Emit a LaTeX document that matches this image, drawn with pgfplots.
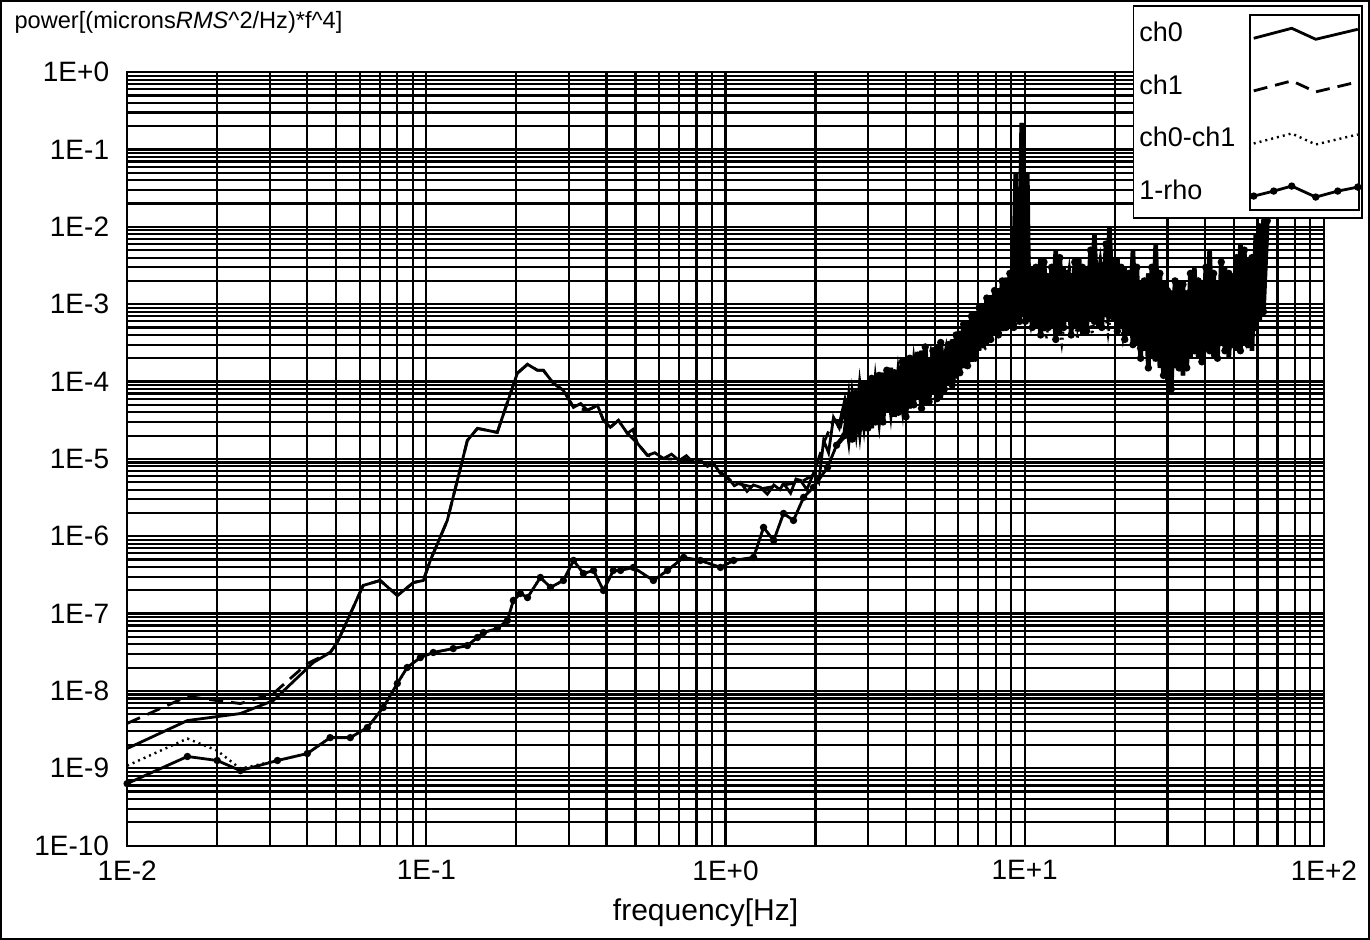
\documentclass[border=0pt]{standalone}
\usepackage{fontspec}
\setmainfont{Liberation Sans}
\usepackage{pgfplots}
\usepackage{pgfplotstable}
\pgfplotsset{compat=1.18}
\pgfplotsset{
  zigleg/.style={legend image code/.code={\draw[##1] plot coordinates {(0pt,-2.5pt)(19pt,2.5pt)(31pt,-3pt)(52pt,2pt)};}},
  zigmark/.style={legend image code/.code={\draw[##1] plot coordinates {(0pt,-2.5pt)(10pt,0pt)(19pt,2.5pt)(31pt,-3pt)(42pt,0pt)(52pt,2pt)};}},
}

\pgfplotstableread{
x y
0.0100 1.80e-9
0.0159 4.14e-9
0.0239 5.10e-9
0.0308 7.50e-9
0.0419 2.33e-8
0.0477 3.14e-8
0.0504 4.23e-8
0.0615 2.31e-7
0.0701 2.68e-7
0.0800 1.71e-7
0.0906 2.52e-7
0.0977 2.68e-7
0.1031 4.86e-7
0.1175 1.60e-6
0.1371 1.73e-5
0.1482 2.48e-5
0.1726 2.20e-5
0.2014 1.28e-4
0.2178 1.67e-4
0.2350 1.40e-4
0.2460 1.40e-4
0.2660 9.48e-5
0.2871 7.69e-5
0.3105 4.64e-5
0.3280 5.20e-5
0.3453 4.24e-5
0.3733 4.92e-5
0.3908 3.15e-5
0.4121 2.56e-5
0.4385 3.15e-5
0.4699 2.14e-5
0.4900 2.40e-5
0.5076 1.59e-5
0.5483 1.11e-5
0.5800 1.20e-5
0.6209 1.01e-5
0.66 1.15e-5
0.70 9.5e-6
0.74 1.10e-5
0.78 9.0e-6
0.8241 9.56e-6
0.87 8.0e-6
0.9120 8.75e-6
0.96 6.5e-6
1.016 5.77e-6
1.07 4.5e-6
1.122 4.97e-6
1.18 3.8e-6
1.24 4.6e-6
1.309 4.28e-6
1.38 3.5e-6
1.45 4.6e-6
1.52 4.0e-6
1.563 4.82e-6
1.65 3.6e-6
1.72 5.5e-6
1.782 5.27e-6
1.87 4.0e-6
1.968 6.49e-6
2.05 5.0e-6
2.128 1.73e-5
2.21 1.2e-5
2.296 3.44e-5
2.40 2.5e-5
2.50 5.0e-5
2.58 2.0e-5
2.65 6.0e-5
2.73 2.5e-5
2.81 8.0e-5
2.90 3.0e-5
2.99 1.0e-4
3.08 2.5e-5
3.17 9.0e-5
3.26 3.5e-5
3.36 1.3e-4
3.46 4.0e-5
3.57 1.5e-4
3.67 3.5e-5
3.78 1.2e-4
3.90 5.0e-5
4.01 2.0e-4
4.13 4.5e-5
4.26 1.6e-4
4.39 6.0e-5
4.52 2.5e-4
4.65 5.0e-5
4.79 2.0e-4
4.94 7.0e-5
5.09 3.0e-4
5.24 6.0e-5
5.39 2.5e-4
5.56 9.0e-5
5.72 3.5e-4
5.90 1.1e-4
6.07 4.5e-4
6.25 1.5e-4
6.44 6.0e-4
6.64 1.8e-4
6.84 8.0e-4
7.04 2.5e-4
7.25 1.0e-3
7.47 3.0e-4
7.70 1.3e-3
7.93 4.0e-4
8.17 1.6e-3
8.41 4.5e-4
8.66 2.2e-3
8.92 5.0e-4
9.19 3.0e-3
9.33 5.0e-2
9.47 6.0e-4
9.62 3.0e-3
9.77 2.2e-1
9.92 7.0e-4
10.05 2.0e-3
10.2 5.0e-2
10.35 6.0e-4
10.6 3.0e-3
10.9 5.0e-4
11.3 4.0e-3
11.6 4.5e-4
12.0 2.5e-3
12.3 5.0e-4
12.7 5.0e-3
13.1 4.0e-4
13.5 3.0e-3
13.9 6.0e-4
14.3 2.5e-3
14.7 5.0e-4
15.2 4.0e-3
15.6 4.0e-4
16.1 3.0e-3
16.6 6.0e-4
17.1 8.0e-3
17.6 5.0e-4
18.1 3.5e-3
18.7 7.0e-4
19.2 1.0e-2
19.8 6.0e-4
20.4 4.0e-3
21.0 5.0e-4
21.6 3.0e-3
22.3 4.0e-4
23.0 5.0e-3
23.7 3.0e-4
24.4 2.0e-3
25.1 2.5e-4
25.9 2.5e-3
26.6 2.0e-4
27.4 6.0e-3
28.3 1.5e-4
29.1 2.0e-3
30.0 1.0e-4
30.9 1.5e-3
31.8 1.5e-4
32.8 2.0e-3
33.8 1.2e-4
34.8 1.5e-3
35.8 2.0e-4
36.9 3.0e-3
38.0 2.0e-4
39.1 2.0e-3
40.3 2.5e-4
41.5 5.0e-3
42.8 2.0e-4
44.1 2.0e-3
45.4 3.0e-4
46.7 3.0e-3
48.1 2.0e-4
49.6 2.5e-3
51.1 2.5e-4
52.6 6.0e-3
54.2 3.0e-4
55.8 4.0e-3
57.5 2.5e-4
59.2 8.0e-3
61.0 6.0e-4
62.8 1.2e-2
64.7 1.5e-2
}\chzero

\pgfplotstableread{
x y
0.0100 3.80e-9
0.0159 8.50e-9
0.0200 7.50e-9
0.0239 6.87e-9
0.0308 9.25e-9
0.0400 2.26e-8
0.0477 3.14e-8
0.0504 4.23e-8
0.0615 2.31e-7
0.0701 2.68e-7
0.0800 1.71e-7
0.0906 2.52e-7
0.0977 2.68e-7
0.1031 4.86e-7
0.1175 1.60e-6
0.1371 1.73e-5
0.1482 2.48e-5
0.1726 2.20e-5
0.2014 1.28e-4
0.2178 1.67e-4
0.2350 1.40e-4
0.2460 1.40e-4
0.2660 9.48e-5
0.2871 7.69e-5
0.3105 4.64e-5
0.3453 4.24e-5
0.3733 4.92e-5
0.3908 3.15e-5
0.4121 2.56e-5
0.4385 3.15e-5
0.4699 2.14e-5
0.5076 1.59e-5
0.5483 1.11e-5
0.6209 1.01e-5
0.70 9.8e-6
0.8241 9.2e-6
0.9120 8.5e-6
1.016 5.5e-6
1.122 4.7e-6
1.309 4.1e-6
1.563 4.6e-6
1.782 5.0e-6
1.968 6.2e-6
2.128 1.6e-5
2.296 3.2e-5
2.54 3.0e-5
2.69 7.0e-5
2.85 3.5e-5
3.03 9.0e-5
3.21 4.0e-5
3.41 1.3e-4
3.62 5.0e-5
3.84 1.5e-4
4.07 6.0e-5
4.32 2.0e-4
4.58 7.0e-5
4.86 2.5e-4
5.16 9.0e-5
5.48 3.0e-4
5.81 1.2e-4
6.16 4.5e-4
6.54 2.0e-4
6.94 7.0e-4
7.36 3.0e-4
7.81 1.2e-3
8.29 5.0e-4
8.79 1.8e-3
9.33 6.0e-4
9.90 5.0e-3
10.5 6.0e-4
11.1 2.5e-3
11.8 5.0e-4
12.5 2.0e-3
13.3 6.0e-4
14.1 3.0e-3
15.0 5.0e-4
15.9 2.5e-3
16.8 7.0e-4
17.9 4.0e-3
19.0 6.0e-4
20.1 3.0e-3
21.3 5.0e-4
22.6 2.0e-3
24.0 3.0e-4
25.5 1.8e-3
27.0 2.5e-4
28.7 1.5e-3
30.4 2.0e-4
32.3 1.2e-3
34.3 2.5e-4
36.4 1.8e-3
38.6 3.0e-4
40.9 2.0e-3
43.4 3.0e-4
46.1 2.0e-3
48.9 3.5e-4
51.9 3.0e-3
55.0 4.0e-4
58.4 4.0e-3
61.9 1.0e-3
65.0 1.0e-2
}\chone

\pgfplotstableread{
x y
0.0100 1.08e-9
0.0159 2.42e-9
0.0200 1.69e-9
0.0239 9.90e-10
0.0318 1.26e-9
0.0400 1.55e-9
0.0477 2.49e-9
0.0557 2.49e-9
0.0635 3.36e-9
0.0718 6.10e-9
0.0800 1.25e-8
0.0863 2.01e-8
0.0955 2.70e-8
0.1055 3.14e-8
0.1230 3.53e-8
0.1371 3.86e-8
0.1482 4.91e-8
0.1552 5.69e-8
0.1726 6.41e-8
0.1866 8.15e-8
0.1954 1.48e-7
0.2062 1.82e-7
0.2178 1.61e-7
0.2405 2.93e-7
0.2600 2.18e-7
0.2871 2.68e-7
0.3105 4.86e-7
0.3350 3.30e-7
0.3622 3.61e-7
0.3908 1.99e-7
0.4217 3.61e-7
0.4457 3.61e-7
0.4921 3.95e-7
0.5741 2.68e-7
0.6397 3.61e-7
0.7244 5.32e-7
0.8241 4.86e-7
0.9616 3.95e-7
1.064 4.86e-7
1.241 5.32e-7
1.340 1.30e-6
1.449 8.82e-7
1.563 1.97e-6
1.687 1.60e-6
1.824 3.18e-6
1.968 4.28e-6
2.193 7.76e-6
2.35 1.5e-5
2.54 2.5e-5
2.69 5.0e-5
2.85 2.5e-5
3.03 7.0e-5
3.21 3.0e-5
3.41 1.0e-4
3.62 4.0e-5
3.84 1.2e-4
4.07 5.0e-5
4.32 1.5e-4
4.58 5.0e-5
4.86 2.0e-4
5.16 7.0e-5
5.48 2.5e-4
5.81 1.0e-4
6.16 3.5e-4
6.54 1.5e-4
6.94 5.0e-4
7.36 2.5e-4
7.81 9.0e-4
8.29 4.0e-4
8.79 1.5e-3
9.33 5.0e-4
9.90 2.0e-3
10.5 5.0e-4
11.1 1.5e-3
11.8 3.5e-4
12.5 1.5e-3
13.3 3.0e-4
14.1 2.0e-3
15.0 3.5e-4
15.9 2.0e-3
16.8 4.0e-4
17.9 2.5e-3
19.0 4.0e-4
20.1 2.0e-3
21.3 3.5e-4
22.6 1.5e-3
24.0 2.5e-4
25.5 1.2e-3
27.0 2.0e-4
28.7 1.0e-3
30.4 1.5e-4
32.3 1.0e-3
34.3 2.0e-4
36.4 1.2e-3
38.6 2.5e-4
40.9 1.5e-3
43.4 2.5e-4
46.1 1.5e-3
48.9 3.0e-4
51.9 2.0e-3
55.0 3.5e-4
58.4 3.0e-3
61.9 8.0e-4
65.0 8.0e-3
}\chdiff

\pgfplotstableread{
x y
0.0100 6.34e-10
0.0159 1.42e-9
0.0200 1.26e-9
0.0239 9.33e-10
0.0318 1.26e-9
0.0400 1.55e-9
0.0477 2.49e-9
0.0557 2.49e-9
0.0635 3.36e-9
0.0718 6.10e-9
0.0800 1.25e-8
0.0863 2.01e-8
0.0955 2.70e-8
0.1055 3.14e-8
0.1230 3.53e-8
0.1371 3.86e-8
0.1482 4.91e-8
0.1552 5.69e-8
0.1726 6.41e-8
0.1866 8.15e-8
0.1954 1.48e-7
0.2062 1.82e-7
0.2178 1.61e-7
0.2405 2.93e-7
0.2600 2.18e-7
0.2871 2.68e-7
0.3105 4.86e-7
0.3350 3.30e-7
0.3622 3.61e-7
0.3908 1.99e-7
0.4217 3.61e-7
0.4457 3.61e-7
0.4921 3.95e-7
0.5741 2.68e-7
0.6397 3.61e-7
0.7244 5.32e-7
0.8241 4.86e-7
0.9616 3.95e-7
1.064 4.86e-7
1.241 5.32e-7
1.340 1.30e-6
1.449 8.82e-7
1.563 1.97e-6
1.687 1.60e-6
1.824 3.18e-6
1.968 4.28e-6
2.193 7.76e-6
2.35 1.5e-5
2.50 2.0e-5
2.58 5.5e-5
2.65 1.8e-5
2.73 7.0e-5
2.81 2.5e-5
2.90 9.0e-5
2.99 2.5e-5
3.08 1.1e-4
3.17 3.0e-5
3.26 1.2e-4
3.36 3.0e-5
3.46 1.4e-4
3.57 4.5e-5
3.67 1.3e-4
3.78 4.0e-5
3.90 1.8e-4
4.01 3.5e-5
4.13 2.0e-4
4.26 5.0e-5
4.39 2.2e-4
4.52 4.5e-5
4.65 2.8e-4
4.79 5.5e-5
4.94 2.5e-4
5.09 6.0e-5
5.24 3.2e-4
5.39 8.0e-5
5.56 3.0e-4
5.72 9.0e-5
5.90 4.0e-4
6.07 1.3e-4
6.25 5.5e-4
6.44 1.6e-4
6.64 7.0e-4
6.84 2.0e-4
7.04 9.0e-4
7.25 3.0e-4
7.47 1.2e-3
7.70 3.5e-4
7.93 1.5e-3
8.17 4.0e-4
8.41 2.0e-3
8.66 5.0e-4
8.92 2.5e-3
9.19 5.0e-4
9.33 2.0e-3
9.47 8.0e-3
9.62 6.0e-4
9.77 3.0e-2
9.92 2.5e-3
10.05 6.0e-4
10.2 4.0e-3
10.35 2.5e-3
10.6 5.0e-4
10.9 3.0e-3
11.3 4.0e-4
11.6 3.5e-3
12.0 5.0e-4
12.3 3.0e-3
12.7 3.5e-4
13.1 4.0e-3
13.5 5.0e-4
13.9 2.5e-3
14.3 4.0e-4
14.7 3.5e-3
15.2 5.0e-4
15.6 3.0e-3
16.1 4.5e-4
16.6 5.0e-3
17.1 6.0e-4
17.6 3.0e-3
18.1 5.0e-4
18.7 6.0e-3
19.2 7.0e-4
19.8 3.5e-3
20.4 4.5e-4
21.0 3.0e-3
21.6 3.5e-4
22.3 2.5e-3
23.0 3.0e-4
23.7 3.0e-3
24.4 2.0e-4
25.1 2.0e-3
25.9 1.5e-4
26.6 3.0e-3
27.4 2.0e-4
28.3 2.5e-3
29.1 1.2e-4
30.0 1.5e-3
30.9 8.0e-5
31.8 2.0e-3
32.8 1.5e-4
33.8 1.8e-3
34.8 1.5e-4
35.8 2.5e-3
36.9 2.5e-4
38.0 2.0e-3
39.1 1.8e-4
40.3 3.0e-3
41.5 2.5e-4
42.8 2.5e-3
44.1 2.0e-4
45.4 3.5e-3
46.7 2.5e-4
48.1 2.5e-3
49.6 3.0e-4
51.1 4.0e-3
52.6 2.5e-4
54.2 5.0e-3
55.8 3.0e-4
57.5 4.0e-3
59.2 5.0e-4
61.0 1.0e-2
62.8 8.0e-4
64.7 1.2e-2
}\onerho

\begin{document}
\begin{tikzpicture}
\begin{axis}[
  scale only axis, width=598pt, height=386.5pt,
  at={(0,0)}, anchor=south west,
  xmode=log, ymode=log,
  xmin=0.01, xmax=100, ymin=1e-10, ymax=1,
  xtick={0.01,0.1,1,10,100},
  xticklabels={1E-2,1E-1,1E+0,1E+1,1E+2},
  minor xtick={0.02,0.03,0.04,0.05,0.06,0.07,0.08,0.09,0.2,0.3,0.4,0.5,0.6,0.7,0.8,0.9,2,3,4,5,6,7,8,9,20,30,40,50,60,70,80,90},
  ytick={1e-10,1e-9,1e-8,1e-7,1e-6,1e-5,1e-4,1e-3,1e-2,1e-1,1},
  yticklabels={1E-10,1E-9,1E-8,1E-7,1E-6,1E-5,1E-4,1E-3,1E-2,1E-1,1E+0},
  minor ytick={2e-10,3e-10,4e-10,5e-10,6e-10,7e-10,8e-10,9e-10,
    2e-9,3e-9,4e-9,5e-9,6e-9,7e-9,8e-9,9e-9,
    2e-8,3e-8,4e-8,5e-8,6e-8,7e-8,8e-8,9e-8,
    2e-7,3e-7,4e-7,5e-7,6e-7,7e-7,8e-7,9e-7,
    2e-6,3e-6,4e-6,5e-6,6e-6,7e-6,8e-6,9e-6,
    2e-5,3e-5,4e-5,5e-5,6e-5,7e-5,8e-5,9e-5,
    2e-4,3e-4,4e-4,5e-4,6e-4,7e-4,8e-4,9e-4,
    2e-3,3e-3,4e-3,5e-3,6e-3,7e-3,8e-3,9e-3,
    2e-2,3e-2,4e-2,5e-2,6e-2,7e-2,8e-2,9e-2,
    0.2,0.3,0.4,0.5,0.6,0.7,0.8,0.9},
  grid=both,
  major grid style={black, line width=1.1pt},
  minor grid style={black, line width=1.1pt},
  major tick length=0pt, minor tick length=0pt,
  axis line style={black, line width=1.1pt},
  tick label style={font=\fontsize{14}{16}\selectfont},
  xticklabel style={yshift=-4pt},
  yticklabel style={xshift=-5.5pt},
  xlabel={frequency[Hz]},
  ylabel={power[(microns\textit{RMS}\textasciicircum 2/Hz)*f\textasciicircum 4]},
  every axis x label/.style={at={(rel axis cs:0.4833,-0.0867)}, anchor=center, font=\fontsize{15}{17}\selectfont},
  every axis y label/.style={at={(rel axis cs:-0.1,1.0647)}, anchor=west, font=\fontsize{11.8}{14}\selectfont},
  legend plot pos=right,
  legend cell align=left,
  legend style={at={(1.0326,1.0867)}, anchor=north east, draw=black, line width=0.9pt, fill=white,
    inner xsep=1pt, inner ysep=6pt, row sep=11pt, font=\fontsize{13.5}{15}\selectfont,
    /tikz/every odd column/.append style={column sep=6pt}},
]
\addplot[black, line width=1.4pt, zigleg] table {\chzero};
\addlegendentry{ch0}
\addplot[black, line width=1.4pt, dash pattern=on 7pt off 4pt, zigleg] table {\chone};
\addlegendentry{ch1}
\addplot[black, line width=1.2pt, dash pattern=on 1pt off 2pt, zigleg] table {\chdiff};
\addlegendentry{ch0-ch1}
\addplot[black, line width=1.4pt, mark=*, mark size=1.1pt, zigmark] table {\onerho};
\addlegendentry{1-rho}
% the dense, noisy part above 2.3 Hz drawn heavier, as in the reference
\addplot[black, line width=2.3pt, forget plot, skip coords between index={0}{63}] table {\chzero};
\addplot[black, line width=2.3pt, forget plot, skip coords between index={0}{47}] table {\onerho};
\end{axis}
\draw[line width=0.9pt] ([shift={(561pt,317.5pt)}]current axis.south west) rectangle ([shift={(615.5pt,415pt)}]current axis.south west);
\draw[line width=1.1pt] ([shift={(-63pt,-46.5pt)}]current axis.south west) rectangle ([shift={(620.5pt,422pt)}]current axis.south west);
\end{tikzpicture}
\end{document}
